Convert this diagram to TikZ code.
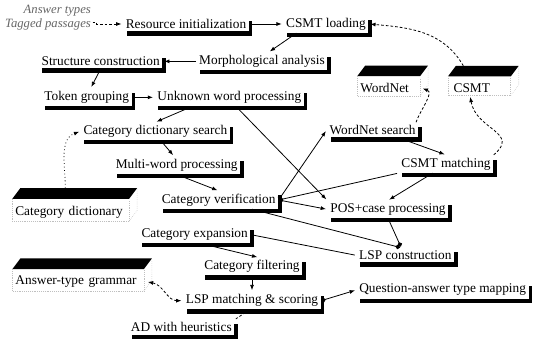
\documentclass[tikz,border=0pt]{standalone}
\usepackage{fontspec}
\setmainfont{Liberation Serif}
\usetikzlibrary{positioning,arrows.meta,shadows}

\tikzset{
  box/.style={fill=white, inner sep=2pt,
    drop shadow={shadow xshift=2.6pt, shadow yshift=-3.2pt, fill=black, opacity=1}},
  db/.style={text width=#1, align=left, inner sep=2pt},
  note/.style={font=\fontsize{9.5}{10.5}\selectfont\itshape, text=black!60, align=right, inner sep=1pt},
  link/.style={dash pattern=on 2pt off 1.5pt},
  dotarr/.style={{Circle[length=3.5pt]}->},
  dotend/.style={-{Circle[length=3.5pt]}},
  dbface/.style={black!25, densely dotted, line width=0.4pt}
}

\begin{document}
\begin{tikzpicture}[x=0.75pt, y=-0.75pt, on grid, shorten >=1pt,
    >={Latex[length=4pt,width=3pt]}, line width=0.6pt,
    font=\fontsize{10}{12}\selectfont]

    \useasboundingbox (0,0) rectangle (534,346);

    \node[box] (init) at (186,24) {Resource initialization};
    \node[note] (notes) [above left=4.5pt and 103.5pt of init] {Answer types\\Tagged passages};
    \node[box] (load) [right=105pt of init] {CSMT loading};
    \node[box] (morph) [below left=28pt and 48pt of load] {Morphological analysis};
    \node[box] (struct) [left=121pt of morph] {Structure construction};
    \node[box] (token) [below left=27pt and 10.5pt of struct] {Token grouping};
    \node[box] (unknown) [right=107pt of token] {Unknown word processing};
    \node[box] (dictsearch) [below left=25.5pt and 55.5pt of unknown] {Category dictionary search};
    \node[box] (multi) [below right=25.5pt and 16pt of dictsearch] {Multi-word processing};
    \node[box] (verif) [below right=26pt and 31.5pt of multi] {Category verification};
    \node[box] (expand) [below left=26pt and 18pt of verif] {Category expansion};
    \node[box] (filter) [below right=24pt and 43pt of expand] {Category filtering};
    \node[box] (lspmatch) [below=25.5pt of filter] {LSP matching \& scoring};
    \node[box] (heur) [below left=20pt and 53pt of lspmatch] {AD with heuristics};
    \node[box] (qamap) [above right=8pt and 143pt of lspmatch] {Question-answer type mapping};
    \node[box] (lspcons) [above left=26pt and 28pt of qamap] {LSP construction};
    \node[box] (pos) [above left=34.5pt and 13pt of lspcons] {POS+case processing};
    \node[box] (csmtmatch) [above right=34pt and 43.5pt of pos] {CSMT matching};
    \node[box] (wnsearch) [above left=25.5pt and 55pt of csmtmatch] {WordNet search};

    % data stores
    \node[db=48.5pt] (wordnet) [above right=31.5pt and 15pt of wnsearch] {WordNet};
    \node[db=48.5pt] (csmt) [right=68pt of wordnet] {\hspace{2pt}CSMT};
    \node[db=89pt] (catdict) [below left=9pt and 108pt of verif] {Category dictionary};
    \node[db=100pt] (atgrammar) [below right=52.5pt and 5.6pt of catdict] {Answer-type grammar};

    \foreach \d in {wordnet,csmt,catdict,atgrammar} {
        \fill ([yshift=3pt]\d.north west) -- ([xshift=6pt,yshift=11pt]\d.north west)
            -- ([yshift=11pt]\d.north east) -- ([xshift=-6pt,yshift=3pt]\d.north east) -- cycle;
        \draw[dbface] ([yshift=3pt]\d.north west) -- (\d.south west)
            -- ([xshift=-6pt]\d.south east) -- ([xshift=-6pt,yshift=3pt]\d.north east);
        \draw[dbface] ([xshift=-6pt]\d.south east) -- ([yshift=8pt]\d.south east)
            -- ([yshift=11pt]\d.north east);
    }

    \draw[->, link] ([yshift=-3pt]notes.east) -- ++(3pt,0) |- (init);

    \path[->]
        (init) edge (load)
        ([xshift=10pt]load.south west) edge ([xshift=5pt]morph.north)
        (morph) edge (struct)
        (struct.south) edge ([xshift=3pt]token.north)
        (token) edge (unknown)

        ([xshift=-28pt]unknown.south) edge (dictsearch.north)
        ([xshift=5pt]unknown.south) edge (pos.north west)
        ([xshift=4pt]dictsearch.south) edge ([xshift=-2pt]multi.north)
        (multi.south) edge (verif.north)

        (verif.east) edge[dotarr] (wnsearch.west)
        (verif.east) edge[dotarr] (pos.west)
        (verif.east) edge[{Circle[length=3.5pt]}-] (csmtmatch.south west)
        ([xshift=-15pt]wnsearch.south east) edge (csmtmatch.north)
        ([xshift=-10pt]csmtmatch.south) edge (pos.north)

        (pos.south) edge[dotend] ([xshift=-3pt]lspcons.north)
        ([xshift=25pt]verif.south) edge[dotend] ([xshift=-3pt]lspcons.north)
        (expand.east) edge[-] (lspcons.west)
        ([xshift=5pt]expand.south) edge ([xshift=5pt]filter.north)
        (filter.south) edge (lspmatch.north)
        (lspmatch.east) edge[dotarr] (qamap.west)
        ([xshift=-2pt]lspmatch.south) edge[-, link] (heur.north east);

    \path[->, link]
        ([xshift=-7pt,yshift=11pt]catdict.north) edge[dotted, out=90, in=200] (dictsearch.west)
        ([xshift=-3pt]atgrammar.east) edge[<->, out=-10, in=180] (lspmatch.west)
        ([xshift=-2pt]wnsearch.north east) edge[out=70, in=-20] ([xshift=-5pt]wordnet.east)
        (csmtmatch.north east) edge[out=40, in=-80, looseness=1.4] ([xshift=-10pt]csmt.south)
        ([xshift=-15pt,yshift=11pt]csmt.north) edge[out=120, in=-5] (load.east);

\end{tikzpicture}
\end{document}
